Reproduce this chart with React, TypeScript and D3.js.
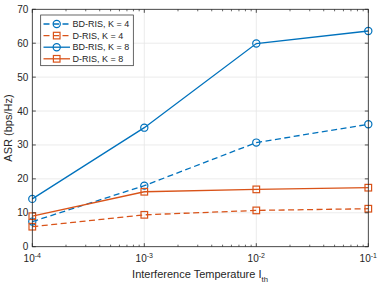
import React from "react";
import * as d3 from "d3";

const xValues = [1e-4, 1e-3, 1e-2, 1e-1];
const bdK4 = [7.4, 18.0, 30.7, 36.1];
const dK4 = [5.9, 9.4, 10.7, 11.2];
const bdK8 = [14.1, 35.1, 59.9, 63.6];
const dK8 = [9.0, 16.2, 16.9, 17.4];
const yTicks = [0, 10, 20, 30, 40, 50, 60, 70];
const xTicks = [1e-4, 1e-3, 1e-2, 1e-1];
const xTickExps = ["-4", "-3", "-2", "-1"];
const legendLabels = ["BD-RIS, K = 4", "D-RIS, K = 4", "BD-RIS, K = 8", "D-RIS, K = 8"];

const BLUE = "#0072BD";
const ORANGE = "#D95319";

const W = 381, H = 286;
const L = 32.3, R = 368.3, T = 9.3, B = 246.7;

export default function App() {
  const x = d3.scaleLog().domain([1e-4, 1e-1]).range([L, R]);
  const y = d3.scaleLinear().domain([0, 70]).range([B, T]);
  const series = [
    { vals: bdK4, color: BLUE, dash: "6,3.5", marker: "circle" },
    { vals: dK4, color: ORANGE, dash: "6,3.5", marker: "square" },
    { vals: bdK8, color: BLUE, dash: null, marker: "circle" },
    { vals: dK8, color: ORANGE, dash: null, marker: "square" },
  ];
  const line = d3.line<number>().x((_, i) => x(xValues[i])).y((d) => y(d));
  const minor: number[] = [];
  for (let e = -4; e < -1; e++) for (let k = 2; k <= 9; k++) minor.push(k * Math.pow(10, e));
  const font = "Liberation Sans, Arial, Helvetica, sans-serif";
  const marker = (m: string, cx: number, cy: number, color: string, key: any) =>
    m === "circle" ? (
      <circle key={key} cx={cx} cy={cy} r={3.6} fill="none" stroke={color} strokeWidth={1.2} />
    ) : (
      <rect key={key} x={cx - 3.3} y={cy - 3.3} width={6.6} height={6.6} fill="none" stroke={color} strokeWidth={1.2} />
    );
  const legX = 40.7, legY = 15, legW = 92.6, legH = 50.7;
  return (
    <svg width={W} height={H} style={{ position: "absolute", left: 0, top: 0 }} fontFamily={font}>
      <rect x={0} y={0} width={W} height={H} fill="white" />
      {yTicks.map((t) => (
        <line key={"gy" + t} x1={L} x2={R} y1={y(t)} y2={y(t)} stroke="#e6e6e6" strokeWidth={0.8} />
      ))}
      {xTicks.map((t) => (
        <line key={"gx" + t} x1={x(t)} x2={x(t)} y1={T} y2={B} stroke="#e6e6e6" strokeWidth={0.8} />
      ))}
      {series.map((s, si) => (
        <g key={si}>
          <path d={line(s.vals) || ""} fill="none" stroke={s.color} strokeWidth={1.3} strokeDasharray={s.dash || undefined} />
          {s.vals.map((v, i) => marker(s.marker, x(xValues[i]), y(v), s.color, i))}
        </g>
      ))}
      <rect x={L} y={T} width={R - L} height={B - T} fill="none" stroke="#262626" strokeWidth={0.8} />
      {yTicks.map((t) => (
        <g key={"ty" + t}>
          <line x1={L} x2={L + 3.5} y1={y(t)} y2={y(t)} stroke="#262626" strokeWidth={0.8} />
          <line x1={R} x2={R - 3.5} y1={y(t)} y2={y(t)} stroke="#262626" strokeWidth={0.8} />
          <text x={L - 4} y={y(t) + 3.5} fontSize={10} textAnchor="end" fill="#262626">{t}</text>
        </g>
      ))}
      {xTicks.map((t, i) => (
        <g key={"tx" + t}>
          <line x1={x(t)} x2={x(t)} y1={B} y2={B - 3.5} stroke="#262626" strokeWidth={0.8} />
          <line x1={x(t)} x2={x(t)} y1={T} y2={T + 3.5} stroke="#262626" strokeWidth={0.8} />
          <text x={x(t)} y={262} fontSize={10} textAnchor="middle" fill="#262626">
            10<tspan dy={-4} fontSize={7}>{xTickExps[i]}</tspan>
          </text>
        </g>
      ))}
      {minor.map((t, i) => (
        <g key={"mx" + i}>
          <line x1={x(t)} x2={x(t)} y1={B} y2={B - 2} stroke="#262626" strokeWidth={0.7} />
          <line x1={x(t)} x2={x(t)} y1={T} y2={T + 2} stroke="#262626" strokeWidth={0.7} />
        </g>
      ))}
      <text x={200} y={278} fontSize={11} textAnchor="middle" fill="#262626">
        Interference Temperature I<tspan dy={3.5} fontSize={7.7}>th</tspan>
      </text>
      <text transform={`translate(11.5,${(T + B) / 2}) rotate(-90)`} fontSize={11} textAnchor="middle" fill="#262626">
        ASR (bps/Hz)
      </text>
      <rect x={legX} y={legY} width={legW} height={legH} fill="white" stroke="#262626" strokeWidth={0.7} />
      {series.map((s, i) => {
        const ly = 24 + i * 11.6;
        return (
          <g key={"lg" + i}>
            <line x1={43.5} x2={70} y1={ly} y2={ly} stroke={s.color} strokeWidth={1.3} strokeDasharray={s.dash || undefined} />
            {marker(s.marker, 56.7, ly, s.color, "m")}
            <text x={72.5} y={ly + 3.2} fontSize={9} fill="#262626">{legendLabels[i]}</text>
          </g>
        );
      })}
    </svg>
  );
}
